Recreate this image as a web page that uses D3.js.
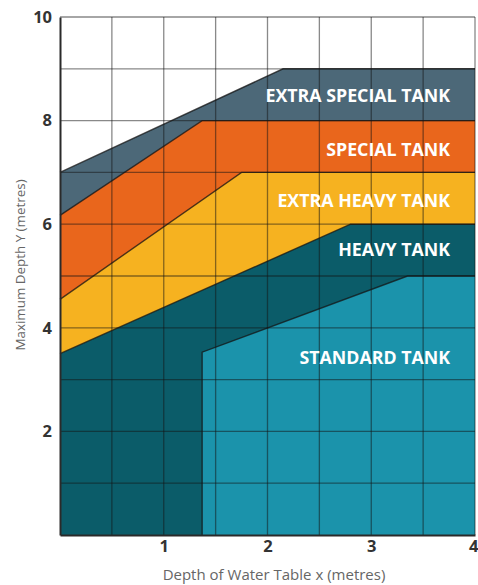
<!DOCTYPE html>
<html><head><meta charset="utf-8">
<script src="https://cdn.jsdelivr.net/npm/d3@7"></script>
<style>html,body{margin:0;padding:0;background:#fff;}svg{display:block;}</style>
</head><body>
<svg id="chart" width="478" height="585"></svg>
<script>
// ---- data ----
const xTicks = [1, 2, 3, 4];
const yTicks = [2, 4, 6, 8, 10];
const xGrid = [0.5, 1, 1.5, 2, 2.5, 3, 3.5, 4];
const yGrid = [1, 2, 3, 4, 5, 6, 7, 8, 9, 10];
const tankNames = ["EXTRA SPECIAL TANK", "SPECIAL TANK", "EXTRA HEAVY TANK", "HEAVY TANK", "STANDARD TANK"];
const tankColors = ["#4c6878", "#e9661c", "#f6b220", "#0b5c69", "#1b93ab"];
const extraSpecialTop = [[0, 7], [2.15, 9], [4, 9]];
const specialTop = [[0, 6.17], [1.37, 8], [4, 8]];
const extraHeavyTop = [[0, 4.55], [1.75, 7], [4, 7]];
const heavyTop = [[0, 3.5], [2.8, 6], [4, 6]];
const standardTop = [[1.37, 0], [1.37, 3.53], [3.35, 5], [4, 5]];
const tankTops = [extraSpecialTop, specialTop, extraHeavyTop, heavyTop, standardTop];
const labelX = [3.76, 3.76, 3.76, 3.76, 3.76];
const labelY = [8.49, 7.45, 6.47, 5.52, 3.44];
const xTitle = "Depth of Water Table x (metres)";
const yTitle = "Maximum Depth Y (metres)";

// ---- chart ----
const svg = d3.select("#chart");
const x = d3.scaleLinear().domain([0, 4]).range([60, 475]);
const y = d3.scaleLinear().domain([0, 10]).range([535, 17]);
const FONT = "'Open Sans', sans-serif";

const line = d3.line().x(d => x(d[0])).y(d => y(d[1]));

const g = svg.append("g");
tankTops.forEach((top, i) => {
  const last = top[top.length - 1];
  const first = top[0];
  const poly = top.concat([[last[0], 0], [first[0], 0]]);
  g.append("path")
    .attr("d", line(poly) + "Z")
    .attr("fill", tankColors[i])
    .attr("stroke", "none");
});
// boundaries
tankTops.forEach((top) => {
  g.append("path")
    .attr("d", line(top))
    .attr("fill", "none")
    .attr("stroke", "rgba(20,20,20,0.75)")
    .attr("stroke-width", 1.4);
});

// grid
const grid = svg.append("g");
xGrid.forEach(v => {
  grid.append("line").attr("x1", x(v)).attr("x2", x(v)).attr("y1", y(0)).attr("y2", y(10))
    .attr("stroke", "rgba(20,20,20,0.5)").attr("stroke-width", 1.3);
});
yGrid.forEach(v => {
  grid.append("line").attr("x1", x(0)).attr("x2", x(4)).attr("y1", y(v)).attr("y2", y(v))
    .attr("stroke", "rgba(20,20,20,0.5)").attr("stroke-width", 1.3);
});
// axes (left and bottom)
const xAxis = d3.axisBottom(x).tickValues(xTicks).tickSize(0).tickPadding(8).tickFormat(d3.format("d"));
const yAxis = d3.axisLeft(y).tickValues(yTicks).tickSize(0).tickPadding(8).tickFormat(d3.format("d"));
const gx = svg.append("g").attr("transform", `translate(0,${y(0)})`).call(xAxis);
const gy = svg.append("g").attr("transform", `translate(${x(0)},0)`).call(yAxis);
[gx, gy].forEach(a => {
  a.select(".domain").attr("stroke", "#2a2a2a").attr("stroke-width", 2);
  a.selectAll("text").attr("font-family", FONT).attr("font-weight", 700)
    .attr("font-size", 16.5).attr("fill", "#333");
});
gx.selectAll("text").attr("dy", "0.55em");
// keep the last x tick label inside the page
gx.selectAll(".tick").filter(d => d === 4).select("text")
  .attr("text-anchor", "end").attr("x", 3);

// labels
tankNames.forEach((name, i) => {
  svg.append("text")
    .attr("x", x(labelX[i])).attr("y", y(labelY[i]))
    .attr("text-anchor", "end").attr("dominant-baseline", "central")
    .attr("font-family", FONT).attr("font-weight", 700)
    .attr("font-size", 17.8).attr("fill", "#fff")
    .text(name);
});

// titles
svg.append("text").attr("x", 274).attr("y", 574)
  .attr("text-anchor", "middle").attr("dominant-baseline", "central")
  .attr("font-family", FONT).attr("font-size", 15).attr("fill", "#666")
  .text(xTitle);
svg.append("text").attr("transform", "translate(20,265) rotate(-90)")
  .attr("text-anchor", "middle").attr("dominant-baseline", "central")
  .attr("font-family", FONT).attr("font-size", 13.4).attr("fill", "#666")
  .text(yTitle);
</script>
</body></html>
